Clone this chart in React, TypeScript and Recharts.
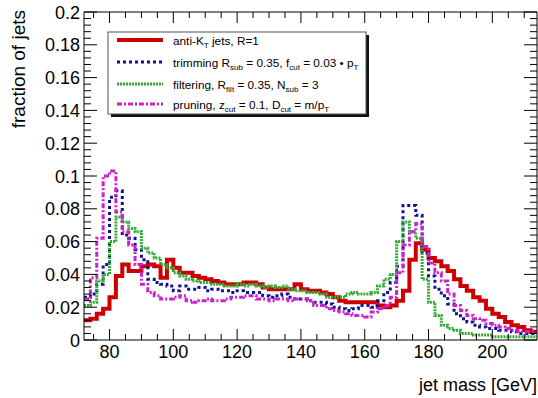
import { LineChart, Line, XAxis, YAxis } from "recharts";

// jet mass histograms, 2 GeV bins starting at 72 GeV (fraction of jets per bin)
const binStart = 72;
const binWidth = 2;

const antiKt = [
  0.012, 0.013, 0.016, 0.019, 0.026, 0.039, 0.046, 0.042, 0.042, 0.045,
  0.046, 0.045, 0.038, 0.049, 0.044, 0.041, 0.041, 0.039, 0.038, 0.037,
  0.036, 0.035, 0.034, 0.034, 0.034, 0.035, 0.035, 0.034, 0.032, 0.031,
  0.031, 0.031, 0.031, 0.034, 0.031, 0.030, 0.030, 0.029, 0.028, 0.026,
  0.024, 0.023, 0.023, 0.023, 0.023, 0.023, 0.021, 0.020, 0.021, 0.024,
  0.030, 0.049, 0.059, 0.055, 0.050, 0.048, 0.045, 0.042, 0.037, 0.033,
  0.030, 0.026, 0.024, 0.019, 0.016, 0.014, 0.011, 0.009, 0.008, 0.006,
  0.005,
];

const trimming = [
  0.026, 0.028, 0.034, 0.046, 0.087, 0.091, 0.064, 0.062, 0.055, 0.049,
  0.037, 0.035, 0.034, 0.033, 0.030, 0.033, 0.031, 0.031, 0.032, 0.030,
  0.031, 0.030, 0.030, 0.029, 0.030, 0.029, 0.029, 0.029, 0.027, 0.026,
  0.027, 0.028, 0.026, 0.025, 0.025, 0.024, 0.023, 0.023, 0.022, 0.020,
  0.019, 0.018, 0.019, 0.021, 0.021, 0.020, 0.024, 0.029, 0.035, 0.045,
  0.082, 0.082, 0.076, 0.053, 0.039, 0.031, 0.027, 0.022, 0.016, 0.013,
  0.011, 0.009, 0.008, 0.007, 0.007, 0.006, 0.006, 0.005, 0.004, 0.004,
  0.004,
];

const filtering = [
  0.021, 0.023, 0.036, 0.040, 0.060, 0.075, 0.072, 0.068, 0.066, 0.056,
  0.053, 0.050, 0.046, 0.044, 0.041, 0.039, 0.037, 0.036, 0.035, 0.035,
  0.034, 0.034, 0.033, 0.033, 0.034, 0.033, 0.034, 0.033, 0.032, 0.033,
  0.032, 0.033, 0.031, 0.030, 0.030, 0.029, 0.029, 0.028, 0.026, 0.026,
  0.026, 0.028, 0.029, 0.028, 0.028, 0.029, 0.033, 0.037, 0.040, 0.060,
  0.072, 0.066, 0.062, 0.037, 0.023, 0.015, 0.009, 0.007, 0.006, 0.004,
  0.004, 0.003, 0.003, 0.003, 0.002, 0.002, 0.002, 0.002, 0.002, 0.002,
  0.002,
];

const pruning = [
  0.025, 0.038, 0.062, 0.100, 0.103, 0.078, 0.066, 0.058, 0.046, 0.034,
  0.029, 0.027, 0.025, 0.025, 0.026, 0.027, 0.024, 0.023, 0.024, 0.025,
  0.024, 0.024, 0.025, 0.026, 0.026, 0.027, 0.027, 0.025, 0.025, 0.024,
  0.025, 0.025, 0.024, 0.025, 0.025, 0.024, 0.021, 0.021, 0.019, 0.018,
  0.017, 0.016, 0.015, 0.015, 0.014, 0.017, 0.019, 0.021, 0.026, 0.041,
  0.058, 0.066, 0.071, 0.057, 0.047, 0.041, 0.036, 0.028, 0.021, 0.018,
  0.015, 0.013, 0.012, 0.010, 0.009, 0.008, 0.007, 0.006, 0.005, 0.005,
  0.005,
];

const xMajor = [80, 100, 120, 140, 160, 180, 200];
const yMajor = [0, 0.02, 0.04, 0.06, 0.08, 0.1, 0.12, 0.14, 0.16, 0.18, 0.2];

const xRange: [number, number] = [72, 214];
const yRange: [number, number] = [0, 0.2];

// minor ticks: 4 divisions per 20 GeV, 5 per 0.02
const xTicks: number[] = [];
for (let v = 75; v <= 210; v += 5) xTicks.push(v);
const yTicks: number[] = [];
for (let k = 0; k <= 50; k++) yTicks.push(Math.round(k * 4) / 1000);

// one row per bin low edge, plus a closing edge so the last bin keeps its width
const data = antiKt.map((_, i) => ({
  m: binStart + i * binWidth,
  antiKt: antiKt[i],
  trimming: trimming[i],
  filtering: filtering[i],
  pruning: pruning[i],
}));
const last = data[data.length - 1];
data.push({ ...last, m: last.m + binWidth });

const FONT = "'Liberation Sans', Arial, Helvetica, sans-serif";
const isMajorX = (v: number) => xMajor.includes(v);
const isMajorY = (v: number) => yMajor.some((t) => Math.abs(t - v) < 1e-6);
const fmtY = (v: number) => String(Number(v.toFixed(3)));

const BottomTick = ({ x, y, payload }: any) => {
  const major = isMajorX(payload.value);
  return (
    <g>
      <line x1={x} x2={x} y1={y} y2={y - (major ? 11 : 6)} stroke="#000" />
      {major && (
        <text x={x} y={y + 18} textAnchor="middle" fontSize={18} fontFamily={FONT} fill="#000">
          {payload.value}
        </text>
      )}
    </g>
  );
};

const TopTick = ({ x, y, payload }: any) => (
  <line x1={x} x2={x} y1={y} y2={y + (isMajorX(payload.value) ? 11 : 6)} stroke="#000" />
);

const LeftTick = ({ x, y, payload }: any) => {
  const major = isMajorY(payload.value);
  return (
    <g>
      <line x1={x} x2={x + (major ? 13 : 7)} y1={y} y2={y} stroke="#000" />
      {major && (
        <text x={x - 4} y={y + 6.5} textAnchor="end" fontSize={18} fontFamily={FONT} fill="#000">
          {fmtY(payload.value)}
        </text>
      )}
    </g>
  );
};

const RightTick = ({ x, y, payload }: any) => (
  <line x1={x} x2={x - (isMajorY(payload.value) ? 13 : 7)} y1={y} y2={y} stroke="#000" />
);

type Part = { t: string; sub?: boolean };

const series = [
  {
    key: "antiKt",
    color: "#cc0000",
    width: 4,
    dash: undefined as string | undefined,
    label: [{ t: "anti-K" }, { t: "T", sub: true }, { t: " jets, R=1" }] as Part[],
  },
  {
    key: "trimming",
    color: "#10109a",
    width: 3,
    dash: "3 3",
    label: [
      { t: "trimming R" }, { t: "sub", sub: true }, { t: " = 0.35, f" },
      { t: "cut", sub: true }, { t: " = 0.03 \u2022 p" }, { t: "T", sub: true },
    ] as Part[],
  },
  {
    key: "filtering",
    color: "#33aa33",
    width: 3,
    dash: "2 1",
    label: [
      { t: "filtering, R" }, { t: "filt", sub: true }, { t: " = 0.35, N" },
      { t: "sub", sub: true }, { t: " = 3" },
    ] as Part[],
  },
  {
    key: "pruning",
    color: "#cc22cc",
    width: 3,
    dash: "5 2 2 2",
    label: [
      { t: "pruning, z" }, { t: "cut", sub: true }, { t: " = 0.1, D" },
      { t: "cut", sub: true }, { t: " = m/p" }, { t: "T", sub: true },
    ] as Part[],
  },
];

const legendRows = [40, 62, 84, 104];

const LegendText = ({ parts, x, y }: { parts: Part[]; x: number; y: number }) => {
  let shift = 0;
  return (
    <text x={x} y={y} fontSize={11.8} fontFamily={FONT} fill="#000" style={{ whiteSpace: "pre" }}>
      {parts.map((p, i) => {
        const target = p.sub ? 3.5 : 0;
        const dy = target - shift;
        shift = target;
        return (
          <tspan key={i} dy={dy} fontSize={p.sub ? 8 : 11.8}>
            {p.t}
          </tspan>
        );
      })}
    </text>
  );
};

export default function App() {
  return (
    <div style={{ position: "absolute", left: 0, top: 0, width: 538, height: 398, background: "#fff" }}>
      <LineChart
        width={538}
        height={398}
        data={data}
        margin={{ top: 11, right: 0, left: 44, bottom: 28 }}
      >
        <XAxis
          dataKey="m"
          type="number"
          domain={xRange}
          allowDataOverflow
          ticks={xTicks}
          interval={0}
          height={30}
          tickSize={0}
          tickMargin={0}
          tickLine={false}
          axisLine={{ stroke: "#000" }}
          tick={<BottomTick />}
        />
        <XAxis
          xAxisId="top"
          orientation="top"
          dataKey="m"
          type="number"
          domain={xRange}
          allowDataOverflow
          ticks={xTicks}
          interval={0}
          height={1}
          tickSize={0}
          tickMargin={0}
          tickLine={false}
          axisLine={{ stroke: "#000" }}
          tick={<TopTick />}
        />
        <YAxis
          type="number"
          domain={yRange}
          allowDataOverflow
          ticks={yTicks}
          interval={0}
          width={40}
          tickSize={0}
          tickMargin={0}
          tickLine={false}
          axisLine={{ stroke: "#000" }}
          tick={<LeftTick />}
        />
        <YAxis
          yAxisId="right"
          orientation="right"
          type="number"
          domain={yRange}
          allowDataOverflow
          ticks={yTicks}
          interval={0}
          width={1}
          tickSize={0}
          tickMargin={0}
          tickLine={false}
          axisLine={{ stroke: "#000" }}
          tick={<RightTick />}
        />
        {series.map((s) => (
          <Line
            key={s.key}
            type="stepAfter"
            dataKey={s.key}
            stroke={s.color}
            strokeWidth={s.width}
            strokeDasharray={s.dash}
            dot={false}
            activeDot={false}
            isAnimationActive={false}
          />
        ))}
      </LineChart>

      <svg
        width={538}
        height={398}
        style={{ position: "absolute", left: 0, top: 0, pointerEvents: "none" }}
      >
        <text
          transform="translate(25, 10) rotate(-90)"
          textAnchor="end"
          fontSize={19}
          fontFamily={FONT}
          fill="#000"
        >
          fraction of jets
        </text>
        <text x={537} y={391} textAnchor="end" fontSize={18} fontFamily={FONT} fill="#000">
          jet mass [GeV]
        </text>

        {/* legend box with drop shadow */}
        <rect x={111} y={35} width={258} height={82} fill="#111" />
        <rect x={108} y={32} width={258} height={82} fill="#fff" stroke="#555" strokeWidth={1} />
        {series.map((s, i) => (
          <g key={s.key}>
            <line
              x1={117}
              x2={163}
              y1={legendRows[i]}
              y2={legendRows[i]}
              stroke={s.color}
              strokeWidth={s.width}
              strokeDasharray={s.dash}
            />
            <LegendText parts={s.label} x={173} y={legendRows[i] + 4.5} />
          </g>
        ))}
      </svg>
    </div>
  );
}
